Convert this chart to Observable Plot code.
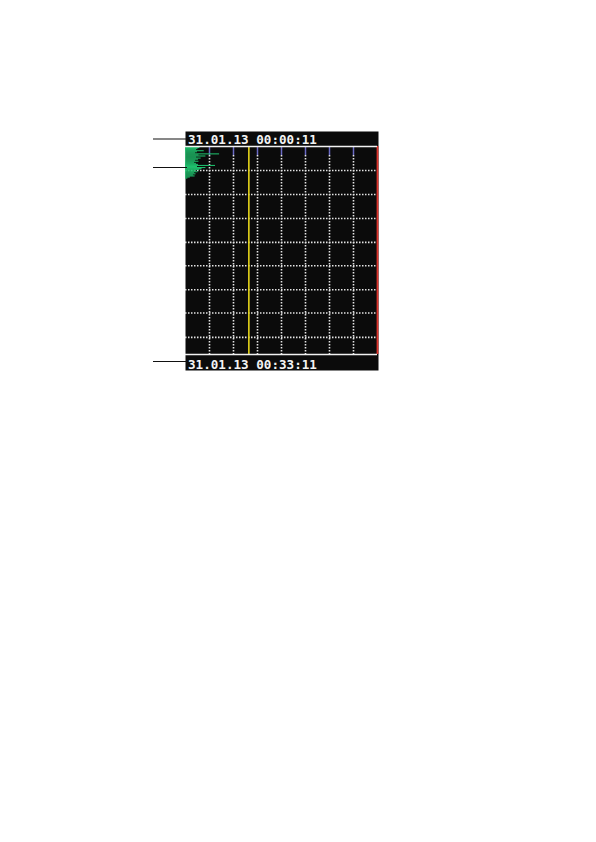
<!DOCTYPE html>
<html>
<head>
<meta charset="utf-8">
<script src="https://cdn.jsdelivr.net/npm/d3@7"></script>
<script src="https://cdn.jsdelivr.net/npm/@observablehq/plot@0.6"></script>
<style>
  html, body { margin: 0; padding: 0; background: #fff; }
  #chart svg { display: block; }
</style>
</head>
<body>
<div id="chart"></div>
<script>
// Time labels (top = start of display window, bottom = end)
const startLabel = "31.01.13 00:00:11";
const endLabel = "31.01.13 00:33:11";
const windowSeconds = 1980; // 33 minutes shown

// Vertical grid divisions (amplitude units, 0..80)
const xDomain = [0, 80];
const gridCols = [10, 20, 30, 40, 50, 60, 70];
// Horizontal grid divisions (seconds from window start)
const gridRows = [228, 457, 685, 913, 1135, 1363, 1585, 1817];

// Markers: yellow limit and red limit (amplitude units)
const yellowLimit = [26.4];
const redLimit = [80];

// Recorded trace: sample time (s) and amplitude
const traceTimes = [0,10,20,30,40,50,60,70,80,90,100,110,120,130,140,150,160,170,180,190,200,210,220,230,240,250,260,270,280,290,300];
const traceValues = [3.6,6.0,5.2,4.6,7.8,5.0,4.2,14.2,5.6,8.5,4.6,6.5,5.4,4.2,5.6,3.8,4.6,5.4,12.5,5.0,8.5,6.9,6.0,4.2,5.2,3.8,4.4,3.3,4.0,2.0,1.0];
const sampleStep = 10;

// Callout leader positions (seconds): header, trace, footer
const callouts = [0, 200, 1980];

const trace = traceTimes.map((t, i) => ({t, v: traceValues[i]}));

const chart = Plot.plot({
  width: 596,
  height: 842,
  marginLeft: 185,
  marginRight: 219,
  marginTop: 146,
  marginBottom: 488,
  style: {background: "transparent", overflow: "visible"},
  x: {domain: xDomain, axis: null},
  y: {domain: [0, windowSeconds], reverse: true, axis: null},
  marks: [
    // black screen panel (extends over header and footer text bands)
    Plot.frame({fill: "#0b0b0b", stroke: null, insetTop: -15, insetBottom: -16, insetRight: -1}),
    // dotted horizontal grid
    Plot.ruleY(gridRows, {stroke: "#e4e4e4", strokeWidth: 1.6, strokeDasharray: "1.5,1.5"}),
    // dotted vertical grid
    Plot.ruleX(gridCols, {stroke: "#e4e4e4", strokeWidth: 1.6, strokeDasharray: "1.5,1.5", insetTop: 9}),
    // blue tops of the vertical grid lines
    Plot.ruleX(gridCols, {stroke: "#6b6bc4", strokeWidth: 1.5, insetBottom: 199}),
    // trace
    Plot.rect(trace, {x1: 0, x2: "v", y1: "t", y2: d => d.t + sampleStep, fill: "#1fbf6c"}),
    // yellow limit
    Plot.ruleX(yellowLimit, {stroke: "#e6d61a", strokeWidth: 1.6}),
    // red limit
    Plot.ruleX(redLimit, {stroke: "#e0342c", strokeWidth: 1.8}),
    // white separator lines at top and bottom
    Plot.ruleY([0, windowSeconds], {stroke: "#f2f2f2", strokeWidth: 1.6}),
    // header & footer time labels
    Plot.text([startLabel], {x: 0, y: () => 0, text: d => d, textAnchor: "start", lineAnchor: "bottom", dx: 2.5, dy: -2.5,
      fill: "#f4f4f4", fontSize: 12.6, fontWeight: "bold", fontFamily: "DejaVu Sans Mono, monospace"}),
    Plot.text([endLabel], {x: 0, y: () => windowSeconds, text: d => d, textAnchor: "start", lineAnchor: "bottom", dx: 2.5, dy: 14,
      fill: "#f4f4f4", fontSize: 12.6, fontWeight: "bold", fontFamily: "DejaVu Sans Mono, monospace"}),
    // callout leader lines
    Plot.ruleY([callouts[0]], {stroke: "#111", strokeWidth: 1.2, dy: -7.5, insetLeft: -32, insetRight: 190}),
    Plot.ruleY([callouts[1]], {stroke: "#111", strokeWidth: 1.2, insetLeft: -32, insetRight: 190}),
    Plot.ruleY([callouts[2]], {stroke: "#111", strokeWidth: 1.2, dy: 7, insetLeft: -32, insetRight: 190})
  ]
});
document.getElementById("chart").appendChild(chart);
</script>
</body>
</html>
